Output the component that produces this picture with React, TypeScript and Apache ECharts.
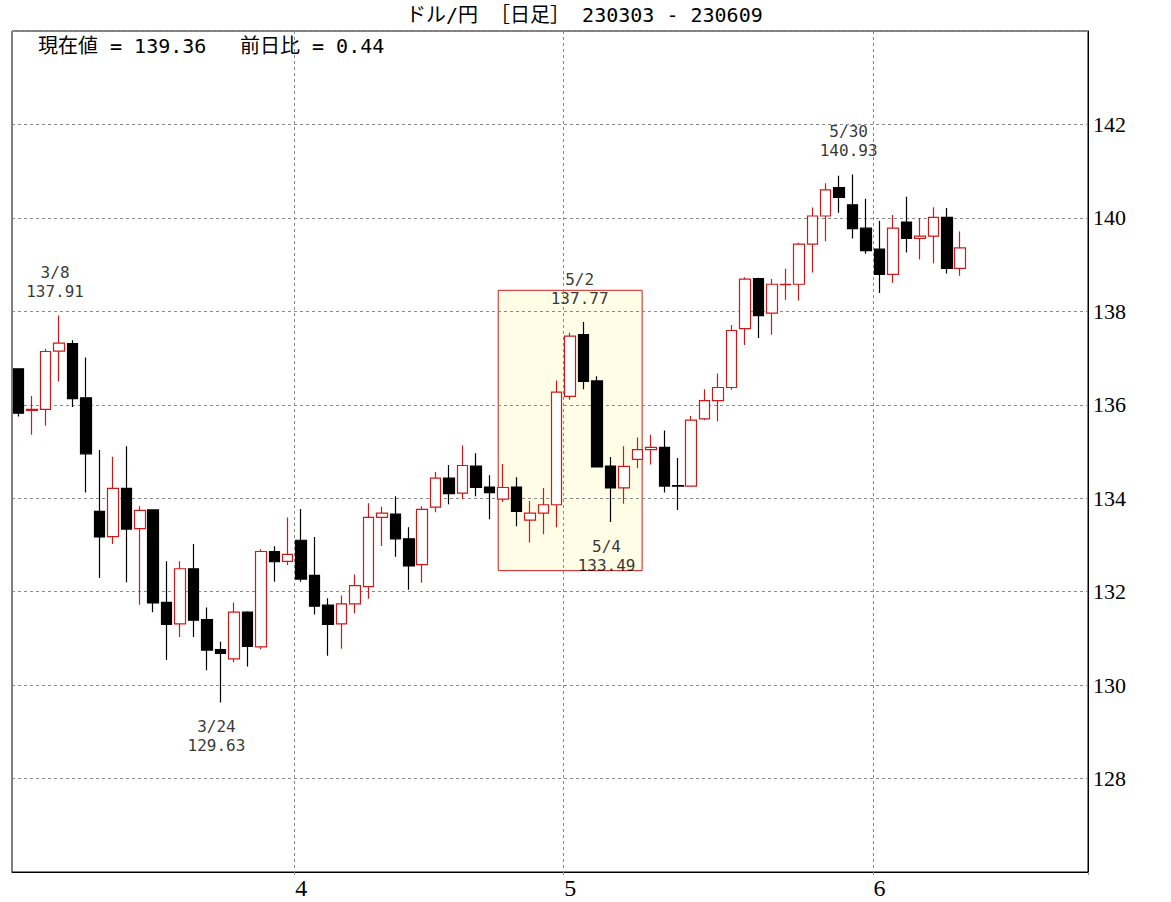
import React, { useEffect, useRef } from "react";
import * as echarts from "echarts";

const dates = [
  "3/3", "3/6", "3/7", "3/8", "3/9", "3/10", "3/13", "3/14", "3/15", "3/16", "3/17",
  "3/20", "3/21", "3/22", "3/23", "3/24", "3/27", "3/28", "3/29", "3/30", "3/31",
  "4/3", "4/4", "4/5", "4/6", "4/7", "4/10", "4/11", "4/12", "4/13", "4/14",
  "4/17", "4/18", "4/19", "4/20", "4/21", "4/24", "4/25", "4/26", "4/27", "4/28",
  "5/1", "5/2", "5/3", "5/4", "5/5", "5/8", "5/9", "5/10", "5/11", "5/12",
  "5/15", "5/16", "5/17", "5/18", "5/19", "5/22", "5/23", "5/24", "5/25", "5/26",
  "5/29", "5/30", "5/31", "6/1", "6/2", "6/5", "6/6", "6/7", "6/8", "6/9",
];

const opens = [
  136.77, 135.88, 135.90, 137.15, 137.31, 136.15, 133.72, 133.18, 134.21, 133.35, 133.75,
  131.77, 131.31, 132.49, 131.40, 130.76, 130.56, 131.56, 130.82, 132.86, 132.65,
  133.10, 132.35, 131.71, 131.31, 131.74, 132.11, 133.59, 133.66, 133.13, 132.58,
  133.81, 134.43, 134.11, 134.69, 134.24, 133.98, 134.24, 133.53, 133.68, 133.86,
  136.18, 137.50, 136.51, 134.69, 134.22, 134.83, 135.04, 135.09, 134.27, 134.26,
  135.70, 136.09, 136.37, 137.63, 138.70, 137.96, 138.57, 138.58, 139.44, 140.04,
  140.65, 140.28, 139.78, 139.33, 138.79, 139.91, 139.56, 139.61, 140.01, 138.92,
];

const closes = [
  135.82, 135.90, 137.14, 137.32, 136.13, 134.95, 133.17, 134.21, 133.34, 133.74, 131.76,
  131.30, 132.49, 131.39, 130.75, 130.68, 131.56, 130.83, 132.86, 132.64, 132.80,
  132.27, 131.69, 131.30, 131.74, 132.13, 133.59, 133.68, 133.13, 132.55, 133.76,
  134.43, 134.10, 134.70, 134.23, 134.12, 134.23, 133.72, 133.68, 133.86, 136.27,
  137.47, 136.50, 134.67, 134.22, 134.68, 135.04, 135.09, 134.26, 134.26, 135.67,
  136.09, 136.37, 137.59, 138.69, 137.91, 138.58, 138.58, 139.44, 140.04, 140.60,
  140.44, 139.77, 139.30, 138.79, 139.78, 139.56, 139.61, 140.01, 138.92, 139.36,
];

const lows = [
  135.75, 135.36, 135.55, 136.50, 135.95, 134.12, 132.29, 133.02, 132.20, 131.72, 131.56,
  130.54, 131.03, 131.03, 130.32, 129.63, 130.49, 130.40, 130.77, 132.21, 132.57,
  132.21, 131.51, 130.63, 130.78, 131.54, 131.85, 132.98, 132.75, 132.04, 132.19,
  133.70, 133.87, 133.98, 134.04, 133.55, 133.92, 133.40, 133.05, 133.23, 133.38,
  136.11, 136.33, 134.67, 133.49, 133.88, 134.64, 134.72, 134.12, 133.75, 134.26,
  135.67, 135.65, 136.32, 137.28, 137.43, 137.50, 138.25, 138.23, 138.83, 139.50,
  140.11, 139.56, 139.23, 138.39, 138.61, 139.26, 139.11, 139.03, 138.81, 138.76,
];

const highs = [
  136.77, 136.19, 137.20, 137.91, 137.38, 137.01, 135.03, 134.89, 135.11, 133.83, 133.76,
  132.65, 132.65, 133.02, 131.66, 130.93, 131.77, 131.58, 132.91, 132.97, 133.59,
  133.77, 133.17, 131.86, 131.92, 132.37, 133.89, 133.82, 134.04, 133.38, 133.83,
  134.56, 134.71, 135.13, 134.96, 134.49, 134.73, 134.45, 133.94, 134.22, 136.52,
  137.54, 137.77, 136.61, 134.88, 135.11, 135.30, 135.36, 135.45, 134.86, 135.76,
  136.33, 136.67, 137.71, 138.73, 138.72, 138.69, 138.91, 139.47, 140.22, 140.74,
  140.90, 140.93, 140.41, 139.94, 140.06, 140.45, 140.00, 140.23, 140.21, 139.71,
];

const blankSlots = 9;
const peakDates = ["3/8", "5/2", "5/30"];
const troughDates = ["3/24", "5/4"];
const zoneDates = ["4/24", "5/8"];
const zoneValues = [132.45, 138.45];
const yMin = 126;
const yMax = 144;
const yStep = 2;

const titleText = "ドル/円 ［日足］ 230303 - 230609";
const priceText = "現在値 = 139.36";
const changeText = "前日比 = 0.44";

const MONO = '"DejaVu Sans Mono", "Noto Sans CJK JP", monospace';
const SERIF = '"Liberation Serif", "DejaVu Serif", serif';
const RED = "#d01818";
const GRID_GRAY = "#8a8a8a";

export default function App() {
  const ref = useRef<HTMLDivElement>(null);

  useEffect(() => {
    document.body.style.margin = "0";
    document.body.style.overflow = "hidden";
    const chart = echarts.init(ref.current as HTMLDivElement, null, { renderer: "svg" });

    const categories = dates.concat(
      Array.from({ length: blankSlots }, (_, k) => "pad" + k)
    );
    const monthStarts = new Set<number>();
    dates.forEach((d, i) => {
      if (i > 0 && d.split("/")[0] !== dates[i - 1].split("/")[0]) monthStarts.add(i);
    });
    const isMonthStart = (i: number) => monthStarts.has(i);

    const candles = dates.map((_, i) => [opens[i], closes[i], lows[i], highs[i]]);
    const peakData = peakDates.map((d) => [d, highs[dates.indexOf(d)]]);
    const troughData = troughDates.map((d) => [d, lows[dates.indexOf(d)]]);
    const zoneData = [
      [dates.indexOf(zoneDates[0]), dates.indexOf(zoneDates[1]), zoneValues[0], zoneValues[1]],
    ];

    const labelStyle = {
      show: true,
      fontFamily: MONO,
      fontSize: 16,
      lineHeight: 19,
      color: "#000",
      align: "center",
      offset: [-4, 0],
      formatter: (p: any) => `${p.value[0]}\n${Number(p.value[1]).toFixed(2)}`,
    };

    chart.setOption({
      animation: false,
      grid: {
        left: 12,
        right: 83,
        top: 31,
        bottom: 30,
        show: true,
        borderColor: "#000",
        borderWidth: 1,
        backgroundColor: "transparent",
      },
      xAxis: {
        type: "category",
        data: categories,
        boundaryGap: true,
        axisLine: { show: true, lineStyle: { color: "#000", width: 1 } },
        axisTick: {
          show: true,
          interval: (i: number) => isMonthStart(i),
          length: 4,
          lineStyle: { color: GRID_GRAY, type: [3, 3] },
        },
        axisLabel: {
          interval: (i: number) => isMonthStart(i),
          formatter: (v: string) => v.split("/")[0],
          fontFamily: SERIF,
          fontSize: 24,
          color: "#000",
          margin: 4,
        },
        splitLine: {
          show: true,
          interval: (i: number) => isMonthStart(i),
          lineStyle: { color: GRID_GRAY, type: [3, 3], width: 1 },
        },
      },
      yAxis: {
        type: "value",
        position: "right",
        min: yMin,
        max: yMax,
        interval: yStep,
        axisLine: { show: true, lineStyle: { color: "#000", width: 1 } },
        axisTick: { show: false },
        axisLabel: {
          showMinLabel: false,
          showMaxLabel: false,
          fontFamily: SERIF,
          fontSize: 22,
          color: "#000",
          margin: 5,
        },
        splitLine: { show: true, lineStyle: { color: GRID_GRAY, type: [3, 3], width: 1 } },
      },
      graphic: [
        {
          type: "text",
          left: 406,
          top: 5,
          style: { text: titleText, fontSize: 20, fontFamily: MONO, fill: "#000" },
        },
        {
          type: "text",
          left: 38,
          top: 36,
          style: { text: priceText, fontSize: 20, fontFamily: MONO, fill: "#000" },
        },
        {
          type: "text",
          left: 240,
          top: 36,
          style: { text: changeText, fontSize: 20, fontFamily: MONO, fill: "#000" },
        },
      ],
      series: [
        {
          type: "custom",
          z: -1,
          silent: true,
          data: zoneData,
          encode: { x: [0, 1], y: [2, 3] },
          renderItem: (params: any, api: any) => {
            const p0 = api.coord([api.value(0), api.value(3)]);
            const p1 = api.coord([api.value(1), api.value(2)]);
            const half = api.size([1, 0])[0] * 0.35;
            return {
              type: "rect",
              shape: {
                x: p0[0] - half,
                y: p0[1],
                width: p1[0] - p0[0] + 2 * half,
                height: p1[1] - p0[1],
              },
              style: { fill: "#fffde6", stroke: "#d01c1c", lineWidth: 1 },
            };
          },
        },
        {
          type: "candlestick",
          data: candles,
          barWidth: 11,
          silent: true,
          itemStyle: {
            color: "#ffffff",
            color0: "#000000",
            borderColor: RED,
            borderColor0: "#000000",
            borderWidth: 1.2,
          },
        },
        {
          type: "scatter",
          data: peakData,
          symbolSize: 1,
          silent: true,
          itemStyle: { color: "transparent" },
          label: { ...labelStyle, position: "top", distance: 14 },
          z: 5,
        },
        {
          type: "scatter",
          data: troughData,
          symbolSize: 1,
          silent: true,
          itemStyle: { color: "transparent" },
          label: { ...labelStyle, position: "bottom", distance: 14 },
          z: 5,
        },
      ],
    });

    return () => chart.dispose();
  }, []);

  return <div ref={ref} style={{ width: 1171, height: 902 }} />;
}
